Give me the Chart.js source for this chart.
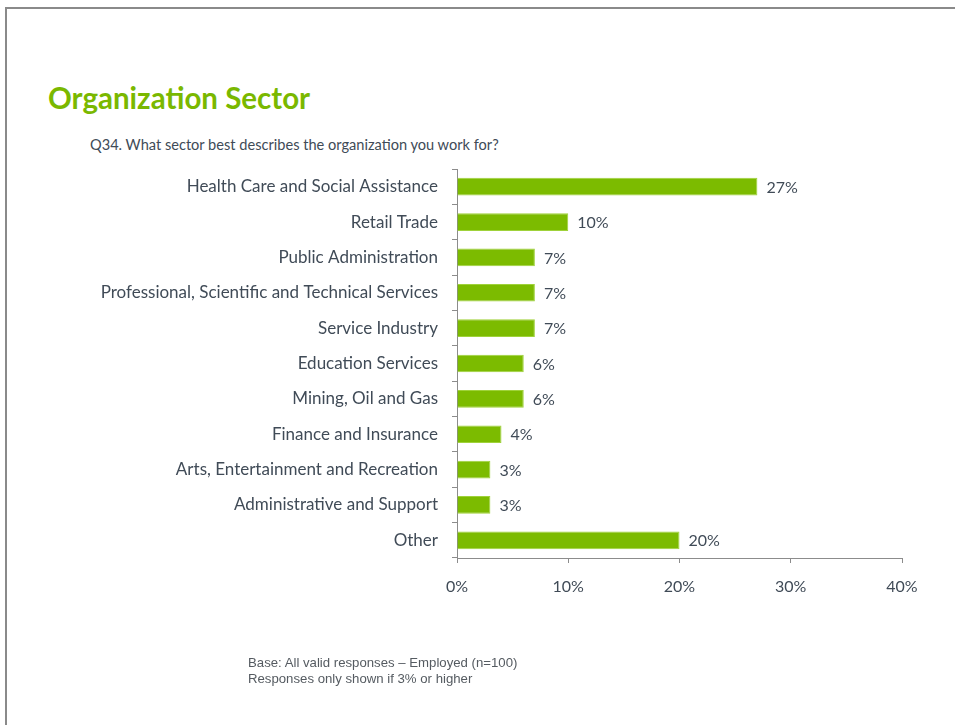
<!DOCTYPE html>
<html>
<head>
<meta charset="utf-8">
<script src="https://cdn.jsdelivr.net/npm/chart.js@4/dist/chart.umd.min.js"></script>
<style>
  html, body { margin: 0; padding: 0; background: #fff; }
  #wrap { position: relative; width: 955px; height: 725px; overflow: hidden; }
  #frame { position: absolute; left: 5px; top: 7px; width: 960px; height: 730px;
    border-left: 2px solid #8a8a8a; border-top: 2px solid #8a8a8a; }
  #titulo { position: absolute; left: 48px; top: 80px; font: bold 29.5px Lato, sans-serif; color: #7ab800; }
  #pergunta { position: absolute; left: 90px; top: 136px; font: 14.6px Lato, sans-serif; color: #404b57; }
  #nota { position: absolute; left: 248px; top: 655px; font: 13.2px "Liberation Sans", Arial, sans-serif; color: #555b61; line-height: 16px; }
  canvas { position: absolute; left: 0; top: 0; }
</style>
</head>
<body>
<div id="wrap">
  <div id="frame"></div>
  <div id="titulo">Organization Sector</div>
  <div id="pergunta">Q34. What sector best describes the organization you work for?</div>
  <canvas id="myChart" width="955" height="725"></canvas>
  <div id="nota">Base: All valid responses – Employed (n=100)<br>Responses only shown if 3% or higher</div>
</div>
<script>
// dados do grafico
var setores = [
  'Health Care and Social Assistance',
  'Retail Trade',
  'Public Administration',
  'Professional, Scientific and Technical Services',
  'Service Industry',
  'Education Services',
  'Mining, Oil and Gas',
  'Finance and Insurance',
  'Arts, Entertainment and Recreation',
  'Administrative and Support',
  'Other'
];
var percentuais = [27, 10, 7, 7, 7, 6, 6, 4, 3, 3, 20];
var ticksX = [0, 10, 20, 30, 40];

var corTexto = '#404b57';
var corEixo = '#8c8c8c';

// rotulos no fim das barras
var rotulosBarras = {
  id: 'rotulosBarras',
  afterDatasetsDraw: function (chart) {
    var ctx = chart.ctx;
    var meta = chart.getDatasetMeta(0);
    ctx.save();
    ctx.font = '16px Lato, sans-serif';
    ctx.fillStyle = corTexto;
    ctx.textAlign = 'left';
    ctx.textBaseline = 'middle';
    meta.data.forEach(function (bar, i) {
      ctx.fillText(percentuais[i] + '%', bar.x + 9, bar.y + 1);
    });
    ctx.restore();
  }
};

var config = {
  type: 'bar',
  data: {
    labels: setores,
    datasets: [{
      data: percentuais,
      backgroundColor: '#7cbb00',
      borderColor: '#9fd23a',
      borderWidth: 1,
      categoryPercentage: 1,
      barPercentage: 0.5
    }]
  },
  options: {
    indexAxis: 'y',
    responsive: false,
    animation: false,
    layout: { padding: { top: 169, bottom: 0, left: 0, right: 53 } },
    plugins: { legend: { display: false }, tooltip: { enabled: false } },
    scales: {
      x: {
        min: 0,
        max: 40,
        afterBuildTicks: function (scale) {
          scale.ticks = ticksX.map(function (v) { return { value: v }; });
        },
        afterFit: function (scale) { scale.height = 167; },
        grid: { drawOnChartArea: false, color: corEixo, tickLength: 5 },
        border: { color: corEixo },
        ticks: {
          color: corTexto,
          font: { family: 'Lato', size: 16 },
          padding: 14,
          callback: function (v) { return v + '%'; }
        }
      },
      y: {
        afterFit: function (scale) { scale.width = 457; },
        grid: { drawOnChartArea: false, color: corEixo, tickLength: 5 },
        border: { color: corEixo },
        ticks: {
          color: corTexto,
          font: { family: 'Lato', size: 17 },
          padding: 14,
          autoSkip: false
        }
      }
    }
  },
  plugins: [rotulosBarras]
};

var myChart = new Chart(document.getElementById('myChart').getContext('2d'), config);
</script>
</body>
</html>
